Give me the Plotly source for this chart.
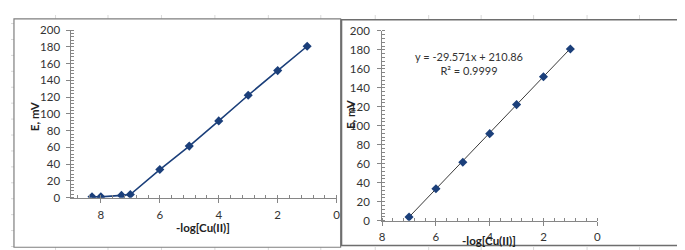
import plotly.graph_objects as go

# ---- data ----
x_full = [8.3, 8.0, 7.3, 7.0, 6, 5, 4, 3, 2, 1]
e_full = [1.0, 1.0, 2.7, 3.8, 33.6, 61.6, 91.7, 122.3, 151.7, 180.8]
x_lin = [7, 6, 5, 4, 3, 2, 1]
e_lin = [3.8, 33.6, 61.6, 91.7, 122.3, 151.7, 180.8]
slope, intercept = -29.571, 210.86
eq_text = "y = -29.571x + 210.86<br>R² = 0.9999"
x_title = "-log[Cu(II)]"
y_title = "E, mV"

W, H = 685, 250
def px(x): return x / W
def py(y): return 1 - y / H

NAVY = "#1B3F7A"
FONT = "Lato, 'Open Sans', sans-serif"
TICKC = "#333333"

fig = go.Figure()
fig.add_trace(go.Scatter(x=x_full, y=e_full, mode="lines+markers",
                         line=dict(color=NAVY, width=1.6),
                         marker=dict(symbol="diamond", size=7, color=NAVY),
                         xaxis="x", yaxis="y", showlegend=False))
fit_x = [x_lin[0], x_lin[-1]]
fit_y = [slope * v + intercept for v in fit_x]
fig.add_trace(go.Scatter(x=fit_x, y=fit_y, mode="lines",
                         line=dict(color="#222222", width=0.9),
                         xaxis="x2", yaxis="y2", showlegend=False))
fig.add_trace(go.Scatter(x=x_lin, y=e_lin, mode="markers",
                         marker=dict(symbol="diamond", size=7, color=NAVY),
                         xaxis="x2", yaxis="y2", showlegend=False))

axcommon = dict(showline=True, linecolor="#868686", linewidth=1, showgrid=False,
                zeroline=False, tickfont=dict(family=FONT, size=11.5, color=TICKC),
                ticks="outside", ticklen=4, tickcolor="#868686", fixedrange=True)
minor_x = dict(dtick=0.4, ticks="inside", ticklen=3, tickcolor="#868686")
minor_y = dict(dtick=4, ticks="inside", ticklen=3, tickcolor="#868686")

fig.update_layout(
    width=W, height=H, margin=dict(l=0, r=0, t=0, b=0),
    paper_bgcolor="white", plot_bgcolor="rgba(0,0,0,0)",
    xaxis=dict(domain=[px(61), px(329)], range=[9, 0], dtick=2, anchor="y",
               minor=minor_x, ticklabelstandoff=3, **axcommon),
    yaxis=dict(domain=[py(192.7), py(16)], range=[0, 200], dtick=20, anchor="x",
               minor=minor_y, ticklabelstandoff=4, **axcommon),
    xaxis2=dict(domain=[px(375), px(592.3)], range=[8, 0], dtick=2, anchor="y2",
                minor=minor_x, ticklabelstandoff=1, **axcommon),
    yaxis2=dict(domain=[py(217), py(16.7)], range=[0, 200], dtick=20, anchor="x2",
                minor=minor_y, ticklabelstandoff=5, **axcommon),
)

shapes = []
# spreadsheet grid (background)
cols = [45, 98, 152, 206, 260, 313, 368, 422, 475, 528, 582, 635]
rows = [9 + 16.8 * k for k in range(15)]
for c in cols:
    shapes.append(dict(type="line", xref="paper", yref="paper", x0=px(c), x1=px(c),
                       y0=0, y1=1, line=dict(color="#D9D9D9", width=1), layer="below"))
for r in rows:
    shapes.append(dict(type="line", xref="paper", yref="paper", x0=0, x1=1,
                       y0=py(r), y1=py(r), line=dict(color="#D9D9D9", width=1), layer="below"))
# chart frames
shapes.append(dict(type="rect", xref="paper", yref="paper", x0=px(3), x1=px(333),
                   y0=py(245), y1=py(4), fillcolor="white",
                   line=dict(color="#7F7F7F", width=1.2), layer="below"))
shapes.append(dict(type="rect", xref="paper", yref="paper", x0=px(334), x1=px(680),
                   y0=py(243), y1=py(5), fillcolor="white",
                   line=dict(color="#6E6E6E", width=1.4), layer="below"))
fig.update_layout(shapes=shapes)

ann = []
tfont = dict(family=FONT, size=11.5, color="#222222")
ann.append(dict(text="<b>%s</b>" % y_title, x=px(24), y=py(107), xref="paper", yref="paper",
                textangle=-90, showarrow=False, font=tfont, xanchor="center", yanchor="middle"))
ann.append(dict(text="<b>%s</b>" % x_title, x=px(194), y=py(224), xref="paper", yref="paper",
                showarrow=False, font=tfont, xanchor="center", yanchor="middle"))
ann.append(dict(text="<b>%s</b>" % y_title, x=px(343), y=py(104), xref="paper", yref="paper",
                textangle=-90, showarrow=False, font=tfont, xanchor="center", yanchor="middle"))
ann.append(dict(text="<b>%s</b>" % x_title, x=px(483), y=py(238), xref="paper", yref="paper",
                showarrow=False, font=tfont, xanchor="center", yanchor="middle"))
ann.append(dict(text=eq_text, x=px(463), y=py(51), xref="paper", yref="paper",
                showarrow=False, font=dict(family=FONT, size=11, color="#333333"),
                xanchor="center", yanchor="middle", align="center"))
fig.update_layout(annotations=ann)

fig.write_html("out.html")
